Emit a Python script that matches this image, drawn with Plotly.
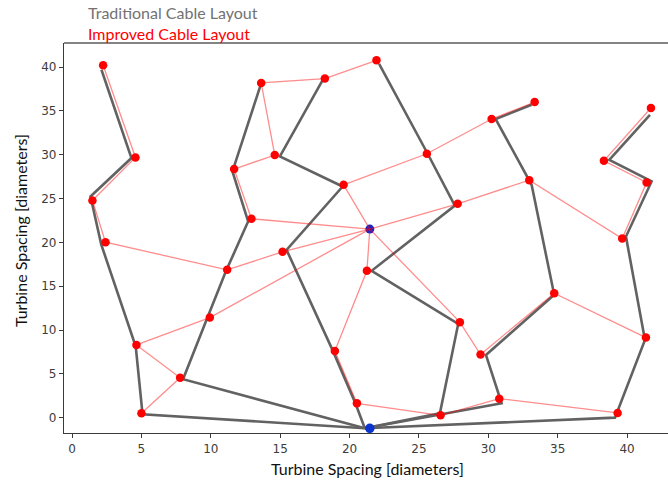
import plotly.graph_objects as go

# Turbine positions (in rotor diameters)
turbine_x = [2.24, 4.57, 1.47, 2.41, 13.63, 18.22, 14.61, 11.68, 19.57, 12.93,
             15.17, 21.94, 33.34, 30.24, 41.72, 25.57, 38.33, 32.95, 41.41, 27.79,
             39.65, 11.18, 9.93, 4.64, 7.79, 5.00, 18.94, 20.53, 21.25, 27.95,
             29.44, 34.75, 41.36, 30.79, 26.56, 39.32]
turbine_y = [40.21, 29.70, 24.79, 20.03, 38.20, 38.70, 29.97, 28.37, 26.58, 22.70,
             18.93, 40.78, 36.02, 34.08, 35.34, 30.12, 29.32, 27.11, 26.84, 24.41,
             20.45, 16.87, 11.42, 8.30, 4.56, 0.50, 7.62, 1.64, 16.76, 10.90,
             7.20, 14.21, 9.14, 2.17, 0.27, 0.54]

# Central substation (improved layout) and edge substation (traditional layout)
hub_x, hub_y = 21.46, 21.52
sub_x, sub_y = 21.46, -1.21

# Improved layout: strings of turbine indices leaving the central substation
improved_strings = [
    [10, 21, 3, 2, 1, 0],
    [22, 23, 24, 25],
    [9, 7, 6, 4, 5, 11],
    [8, 15, 13, 12],
    [19, 17, 20, 18, 16, 14],
    [29, 30, 31, 32],
    [28, 26, 27, 34, 33, 35],
]

# Traditional layout: cable routes leaving the edge substation
trad_start_x, trad_start_y = 21.10, -1.21
trad_x = [
    [5.08, 4.59, 2.11, 1.33, 4.28, 2.12],
    [8.00, 9.76, 11.08, 12.69, 11.56, 13.60],
    [20.42, 18.80, 15.46, 19.50, 14.98, 18.10],
    [26.51, 27.83, 21.59, 27.59, 25.63, 22.13],
    [30.96, 29.83, 34.75, 33.12, 30.53, 33.12],
    [39.13, 41.29, 39.92, 41.77, 38.72, 41.65],
]
trad_y = [
    [0.39, 8.11, 19.73, 25.24, 29.63, 39.71],
    [4.39, 11.42, 16.68, 22.39, 28.10, 38.00],
    [1.64, 7.62, 19.15, 26.38, 29.81, 38.65],
    [0.50, 10.70, 16.76, 24.21, 30.12, 40.39],
    [1.64, 7.16, 14.02, 26.58, 34.08, 35.72],
    [0.00, 8.87, 20.67, 26.96, 29.43, 34.57],
]

tick_vals = [0, 5, 10, 15, 20, 25, 30, 35, 40]
axis_title = "Turbine Spacing [diameters]"

fig = go.Figure()

# Traditional cable routes
gx, gy = [], []
for xs, ys in zip(trad_x, trad_y):
    gx += [trad_start_x] + xs + [None]
    gy += [trad_start_y] + ys + [None]
fig.add_trace(go.Scatter(x=gx, y=gy, mode="lines",
                         line=dict(color="#626262", width=2.6),
                         hoverinfo="skip", showlegend=False))

# Central substation marker
fig.add_trace(go.Scatter(x=[hub_x], y=[hub_y], mode="markers",
                         marker=dict(color="#1c24c8", size=9),
                         showlegend=False))

# Improved cable routes
rx, ry = [], []
for s in improved_strings:
    rx += [hub_x] + [turbine_x[i] for i in s] + [None]
    ry += [hub_y] + [turbine_y[i] for i in s] + [None]
fig.add_trace(go.Scatter(x=rx, y=ry, mode="lines",
                         line=dict(color="rgba(255,0,0,0.45)", width=1.3),
                         hoverinfo="skip", showlegend=False))

# Turbines
fig.add_trace(go.Scatter(x=turbine_x, y=turbine_y, mode="markers",
                         marker=dict(color="#ff0000", size=8.5),
                         showlegend=False))

# Edge substation
fig.add_trace(go.Scatter(x=[sub_x], y=[sub_y], mode="markers",
                         marker=dict(color="#0a34d0", size=9.5),
                         showlegend=False))

spine = "#3a3a3a"
tick_font = dict(family="DejaVu Sans", size=12, color="#3c3c3c")
fig.update_xaxes(range=[-0.58, 42.95], tickvals=tick_vals, ticks="outside",
                 ticklen=4, tickcolor=spine, showline=True, linecolor=spine,
                 linewidth=1.3, showgrid=False, zeroline=False, tickfont=tick_font)
fig.update_yaxes(range=[-1.75, 42.76], tickvals=tick_vals, ticks="outside",
                 ticklen=4, tickcolor=spine, showline=True, linecolor=spine,
                 linewidth=1.3, showgrid=False, zeroline=False, tickfont=tick_font)

fig.update_layout(
    width=668, height=481,
    margin=dict(l=64, r=0, t=43, b=48),
    paper_bgcolor="white", plot_bgcolor="white",
    shapes=[dict(type="line", xref="paper", yref="paper", x0=0, x1=1, y0=1, y1=1,
                 line=dict(color="#5a5a5a", width=1.3))],
    annotations=[
        dict(text="Traditional Cable Layout", xref="paper", yref="paper",
             x=0.036, y=1.078, xanchor="left", yanchor="middle", showarrow=False,
             font=dict(family="Lato", size=16, color="#727272")),
        dict(text="Improved Cable Layout", xref="paper", yref="paper",
             x=0.036, y=1.024, xanchor="left", yanchor="middle", showarrow=False,
             font=dict(family="Lato", size=16, color="#ff0000")),
        dict(text=axis_title, xref="paper", yref="paper",
             x=0.503, y=-0.092, xanchor="center", yanchor="middle", showarrow=False,
             font=dict(family="Lato", size=16, color="#111111")),
        dict(text=axis_title, xref="paper", yref="paper", textangle=-90,
             x=-0.073, y=0.52, xanchor="center", yanchor="middle", showarrow=False,
             font=dict(family="Lato", size=16, color="#111111")),
    ],
)

fig.write_html("out.html")
